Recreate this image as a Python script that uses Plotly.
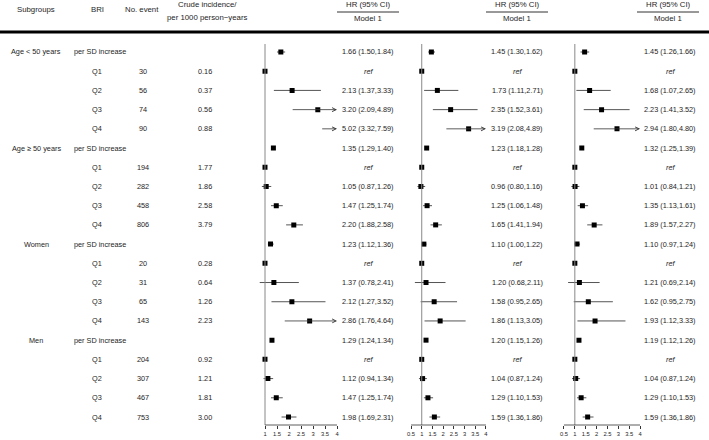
import plotly.graph_objects as go

# ---- data ----
subgroups = ["Age < 50 years", "Age ≥ 50 years", "Women", "Men"]
bri = ["per SD increase", "Q1", "Q2", "Q3", "Q4"] * 4
events = ["", "30", "56", "74", "90",
          "", "194", "282", "458", "806",
          "", "20", "31", "65", "143",
          "", "204", "307", "467", "753"]
incidence = ["", "0.16", "0.37", "0.56", "0.88",
             "", "1.77", "1.86", "2.58", "3.79",
             "", "0.28", "0.64", "1.26", "2.23",
             "", "0.92", "1.21", "1.81", "3.00"]

# panel 1
m1_hr = [1.66, None, 2.13, 3.20, 5.02, 1.35, None, 1.05, 1.47, 2.20,
         1.23, None, 1.37, 2.12, 2.86, 1.29, None, 1.12, 1.47, 1.98]
m1_lo = [1.50, None, 1.37, 2.09, 3.32, 1.29, None, 0.87, 1.25, 1.88,
         1.12, None, 0.78, 1.27, 1.76, 1.24, None, 0.94, 1.25, 1.69]
m1_hi = [1.84, None, 3.33, 4.89, 7.59, 1.40, None, 1.26, 1.74, 2.58,
         1.36, None, 2.41, 3.52, 4.64, 1.34, None, 1.34, 1.74, 2.31]
# panel 2
m2_hr = [1.45, None, 1.73, 2.35, 3.19, 1.23, None, 0.96, 1.25, 1.65,
         1.10, None, 1.20, 1.58, 1.86, 1.20, None, 1.04, 1.29, 1.59]
m2_lo = [1.30, None, 1.11, 1.52, 2.08, 1.18, None, 0.80, 1.06, 1.41,
         1.00, None, 0.68, 0.95, 1.13, 1.15, None, 0.87, 1.10, 1.36]
m2_hi = [1.62, None, 2.71, 3.61, 4.89, 1.28, None, 1.16, 1.48, 1.94,
         1.22, None, 2.11, 2.65, 3.05, 1.26, None, 1.24, 1.53, 1.86]
# panel 3
m3_hr = [1.45, None, 1.68, 2.23, 2.94, 1.32, None, 1.01, 1.35, 1.89,
         1.10, None, 1.21, 1.62, 1.93, 1.19, None, 1.04, 1.29, 1.59]
m3_lo = [1.26, None, 1.07, 1.41, 1.80, 1.25, None, 0.84, 1.13, 1.57,
         0.97, None, 0.69, 0.95, 1.12, 1.12, None, 0.87, 1.10, 1.36]
m3_hi = [1.66, None, 2.65, 3.52, 4.80, 1.39, None, 1.21, 1.61, 2.27,
         1.24, None, 2.14, 2.75, 3.33, 1.26, None, 1.24, 1.53, 1.86]

ticks1 = [1, 1.5, 2, 2.5, 3, 3.5, 4]
ticks23 = [0.5, 1, 1.5, 2, 2.5, 3, 3.5, 4]

W, H = 709, 440
FONT = "Liberation Sans, Arial, sans-serif"
TXT = "#1e1e1e"
CI_COL = "#555555"


def px(x):
    return x / W


def py(y):
    return 1 - y / H


def label(x, y, text, size=7.3, xanchor="center", xref="paper", yref="y"):
    return dict(x=x, y=y, xref=xref, yref=yref, text=text, showarrow=False,
                xanchor=xanchor, yanchor="middle", font=dict(family=FONT, size=size, color=TXT))


panels = [
    dict(hr=m1_hr, lo=m1_lo, hi=m1_hi, ticks=ticks1, rng=[0.6, 4.2], dom=[255.4, 341.8], txt=368, head=368),
    dict(hr=m2_hr, lo=m2_lo, hi=m2_hi, ticks=ticks23, rng=[0.4, 4.1], dom=[408.9, 488.1], txt=517, head=517),
    dict(hr=m3_hr, lo=m3_lo, hi=m3_hi, ticks=ticks23, rng=[0.4, 4.1], dom=[561.8, 642.2], txt=670, head=668),
]

rows = list(range(len(bri)))
axis_y = 425
top_y = 44

fig = go.Figure()
annotations = []
shapes = []

for k, p in enumerate(panels):
    xname = "x" if k == 0 else f"x{k + 1}"
    xmax = p["ticks"][-1]
    # CI segments (truncated ones get an arrow)
    cx, cy = [], []
    mx, my = [], []
    for i in rows:
        hr, lo, hi = p["hr"][i], p["lo"][i], p["hi"][i]
        if hr is None:
            mx.append(1)
            my.append(i)
            continue
        if hr <= xmax:
            mx.append(hr)
            my.append(i)
        if hi > xmax:
            annotations.append(dict(x=xmax, y=i, ax=lo, ay=i, xref=xname, yref="y", axref=xname, ayref="y",
                                    showarrow=True, arrowhead=5, arrowsize=1, arrowwidth=0.8,
                                    arrowcolor="#333333", text=""))
        else:
            cx += [lo, hi, None]
            cy += [i, i, None]
    fig.add_trace(go.Scatter(x=cx, y=cy, mode="lines", xaxis=xname, yaxis="y",
                             line=dict(color=CI_COL, width=1), hoverinfo="skip", showlegend=False))
    fig.add_trace(go.Scatter(x=mx, y=my, mode="markers", xaxis=xname, yaxis="y",
                             marker=dict(symbol="square", size=5, color="black"), showlegend=False))

    # reference line and axis line
    shapes.append(dict(type="line", xref=xname, yref="paper", x0=1, x1=1, y0=py(axis_y), y1=py(top_y),
                       line=dict(color="#888888", width=1)))
    shapes.append(dict(type="line", xref=xname, yref="paper", x0=p["ticks"][0], x1=xmax,
                       y0=py(axis_y), y1=py(axis_y), line=dict(color="#333333", width=0.8)))

    # HR text
    for i in rows:
        if p["hr"][i] is None:
            t = "<i>ref</i>"
        else:
            t = f"{p['hr'][i]:.2f} ({p['lo'][i]:.2f},{p['hi'][i]:.2f})"
        annotations.append(label(px(p["txt"]), i, t))

    # header
    annotations.append(label(px(p["head"]), py(5), "HR (95% CI)", 7.8, yref="paper"))
    annotations.append(label(px(p["head"]), py(18.5), "Model 1", 7.8, yref="paper"))
    shapes.append(dict(type="line", xref="paper", yref="paper", x0=px(p["head"] - 31), x1=px(p["head"] + 31),
                       y0=py(12), y1=py(12), line=dict(color="#333333", width=1)))

    axis_opts = dict(domain=[px(p["dom"][0]), px(p["dom"][1])], range=p["rng"], anchor="y",
                     tickvals=p["ticks"], ticktext=[f"{t:g}" for t in p["ticks"]],
                     ticks="outside", ticklen=3, tickwidth=0.8, tickcolor="#333333",
                     showline=False, showgrid=False, zeroline=False, fixedrange=True,
                     tickfont=dict(family=FONT, size=5.8, color=TXT))
    if k == 0:
        fig.update_layout(xaxis=axis_opts)
    else:
        fig.update_layout(**{f"xaxis{k + 1}": axis_opts})

# left columns
for i in rows:
    if i % 5 == 0:
        annotations.append(label(px(36), i, subgroups[i // 5]))
        annotations.append(label(px(72), i, bri[i], xanchor="left"))
    else:
        annotations.append(label(px(97), i, bri[i]))
    for col_x, vals in [(143, events), (205, incidence)]:
        if vals[i]:
            annotations.append(label(px(col_x), i, vals[i]))

# table header
for x, y, t in [(36, 10, "Subgroups"), (97, 10, "BRI"), (142, 10, "No. event"),
                (207, 5, "Crude incidence/"), (207, 17.5, "per 1000 person\u2212years")]:
    annotations.append(label(px(x), py(y), t, 7.8, yref="paper"))
shapes.append(dict(type="line", xref="paper", yref="paper", x0=0, x1=1, y0=py(32), y1=py(32),
                   line=dict(color="black", width=3)))

# rows 0..19 placed from y=52px to y=417px
step = (417 - 52) / 19
fig.update_layout(
    template="none",
    width=W, height=H,
    margin=dict(l=0, r=0, t=0, b=0),
    paper_bgcolor="white", plot_bgcolor="white",
    font=dict(family=FONT, color=TXT),
    yaxis=dict(domain=[py(axis_y), py(top_y)],
               range=[(axis_y - 52) / step, (top_y - 52) / step],
               visible=False, showgrid=False, zeroline=False, fixedrange=True),
    annotations=annotations,
    shapes=shapes,
    showlegend=False,
    hovermode=False,
)

# page body has an 8px default margin; remove it so the figure sits at the top-left corner
fig.write_html("out.html", config={"displayModeBar": False},
               post_script="document.body.style.margin='0';")
